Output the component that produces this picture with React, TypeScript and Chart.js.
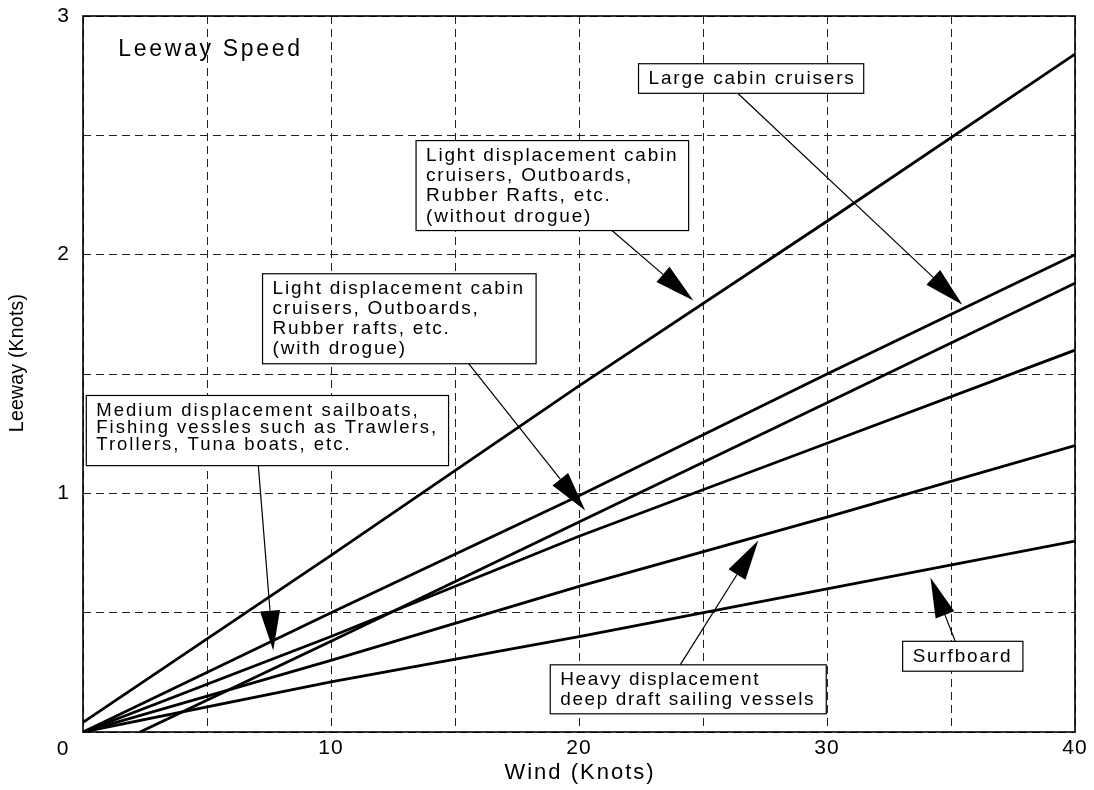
import React, { useEffect, useRef } from 'react';
import { Chart, registerables } from 'chart.js';

Chart.register(...registerables);

// ---- Data ----
const windPoints = [0, 10, 20, 30, 40];
const drogueWindPoints = [2.3, 10, 20, 30, 40];

const lightNoDrogue = [0.04, 0.74, 1.45, 2.14, 2.84];
const largeCabin = [0, 0.5, 0.99, 1.5, 2.0];
const lightWithDrogue = [0, 0.38, 0.88, 1.38, 1.88];
const mediumSail = [0, 0.4, 0.82, 1.21, 1.6];
const heavySail = [0, 0.3, 0.61, 0.9, 1.2];
const surfboard = [0, 0.21, 0.4, 0.6, 0.8];

const xTickLabels = [10, 20, 30, 40];
const yTickLabels = [1, 2, 3];

const chartTitle = 'Leeway Speed';
const xTitle = 'Wind (Knots)';
const yTitle = 'Leeway (Knots)';

const textLarge = ['Large cabin cruisers'];
const textNoDrogue = [
  'Light displacement cabin',
  'cruisers, Outboards,',
  'Rubber Rafts, etc.',
  '(without drogue)',
];
const textWithDrogue = [
  'Light displacement cabin',
  'cruisers, Outboards,',
  'Rubber rafts, etc.',
  '(with drogue)',
];
const textMedium = [
  'Medium displacement sailboats,',
  'Fishing vessles such as Trawlers,',
  'Trollers, Tuna boats, etc.',
];
const textHeavy = ['Heavy displacement', 'deep draft sailing vessels'];
const textSurf = ['Surfboard'];

// ---- Annotation layout (data units for anchors, px for styling) ----
type Note = {
  lines: string[];
  box: [number, number, number, number]; // left wind, top knots, right wind, bottom knots
  tail: [number, number];
  tip: [number, number];
  size: number;
  ls: number;
  gap: number;
};

const notes: Note[] = [
  { lines: textLarge, box: [22.4, 2.8, 31.48, 2.676], tail: [26.42, 2.674], tip: [35.46, 1.79], size: 19, ls: 1.8, gap: 20 },
  { lines: textNoDrogue, box: [13.43, 2.478, 24.42, 2.101], tail: [21.33, 2.101], tip: [24.61, 1.808], size: 19, ls: 1.8, gap: 20.3 },
  { lines: textWithDrogue, box: [7.24, 1.92, 18.27, 1.543], tail: [15.55, 1.543], tip: [20.25, 0.928], size: 19, ls: 1.8, gap: 20 },
  { lines: textMedium, box: [0.133, 1.41, 14.74, 1.116], tail: [7.07, 1.116], tip: [7.67, 0.341], size: 18.5, ls: 2.0, gap: 17 },
  { lines: textHeavy, box: [18.84, 0.2815, 29.97, 0.0762], tail: [24.08, 0.2815], tip: [27.23, 0.802], size: 19, ls: 1.6, gap: 20 },
  { lines: textSurf, box: [33.05, 0.38, 37.9, 0.2547], tail: [35.17, 0.38], tip: [34.17, 0.647], size: 19, ls: 1.8, gap: 20 },
];

const FONT = '"Liberation Sans", Arial, Helvetica, sans-serif';

function drawText(
  ctx: CanvasRenderingContext2D,
  text: string,
  x: number,
  y: number,
  size: number,
  ls: number,
  align: CanvasTextAlign = 'left'
) {
  ctx.save();
  ctx.font = `${size}px ${FONT}`;
  (ctx as any).letterSpacing = `${ls}px`;
  ctx.textAlign = align;
  ctx.textBaseline = 'middle';
  ctx.fillStyle = '#000';
  ctx.fillText(text, x, y);
  ctx.restore();
}

function drawArrow(ctx: CanvasRenderingContext2D, x1: number, y1: number, x2: number, y2: number) {
  const headLen = 40;
  const headHalf = 10;
  const ang = Math.atan2(y2 - y1, x2 - x1);
  const bx = x2 - headLen * Math.cos(ang);
  const by = y2 - headLen * Math.sin(ang);
  ctx.save();
  ctx.strokeStyle = '#000';
  ctx.fillStyle = '#000';
  ctx.lineWidth = 1.2;
  ctx.beginPath();
  ctx.moveTo(x1, y1);
  ctx.lineTo(bx, by);
  ctx.stroke();
  ctx.beginPath();
  ctx.moveTo(x2, y2);
  ctx.lineTo(bx + headHalf * Math.sin(ang), by - headHalf * Math.cos(ang));
  ctx.lineTo(bx - headHalf * Math.sin(ang), by + headHalf * Math.cos(ang));
  ctx.closePath();
  ctx.fill();
  ctx.restore();
}

const decorPlugin = {
  id: 'decor',
  beforeDraw(chart: any) {
    const ctx = chart.ctx as CanvasRenderingContext2D;
    ctx.save();
    ctx.fillStyle = '#fff';
    ctx.fillRect(0, 0, chart.width, chart.height);
    ctx.restore();
    (ctx as any).letterSpacing = '1px';
  },
  afterDraw(chart: any) {
    const ctx = chart.ctx as CanvasRenderingContext2D;
    (ctx as any).letterSpacing = '0px';
    const xs = chart.scales.x;
    const ys = chart.scales.y;
    const area = chart.chartArea;

    // frame
    ctx.save();
    ctx.strokeStyle = '#000';
    ctx.lineWidth = 1.6;
    ctx.strokeRect(area.left, area.top, area.right - area.left, area.bottom - area.top);
    ctx.restore();

    // shared origin label
    drawText(ctx, '0', xs.getPixelForValue(0) - 20, area.bottom + 17, 21, 1, 'center');

    // title inside plot
    drawText(ctx, chartTitle, xs.getPixelForValue(1.42), ys.getPixelForValue(2.859), 23, 2.7, 'left');

    // axis titles
    drawText(ctx, xTitle, (area.left + area.right) / 2 + 1, area.bottom + 41, 22, 2, 'center');
    ctx.save();
    ctx.translate(18, (area.top + area.bottom) / 2 - 11);
    ctx.rotate(-Math.PI / 2);
    drawText(ctx, yTitle, 0, 0, 19.5, 0.2, 'center');
    ctx.restore();

    // annotations
    for (const n of notes) {
      const l = xs.getPixelForValue(n.box[0]);
      const t = ys.getPixelForValue(n.box[1]);
      const r = xs.getPixelForValue(n.box[2]);
      const b = ys.getPixelForValue(n.box[3]);
      drawArrow(
        ctx,
        xs.getPixelForValue(n.tail[0]),
        ys.getPixelForValue(n.tail[1]),
        xs.getPixelForValue(n.tip[0]),
        ys.getPixelForValue(n.tip[1])
      );
      ctx.save();
      ctx.fillStyle = '#fff';
      ctx.fillRect(l, t, r - l, b - t);
      ctx.strokeStyle = '#000';
      ctx.lineWidth = 1.2;
      ctx.strokeRect(l, t, r - l, b - t);
      ctx.restore();
      n.lines.forEach((line, i) => {
        drawText(ctx, line, l + 10, t + 15 + i * n.gap, n.size, n.ls, 'left');
      });
    }
  },
};

function series(label: string, xsArr: number[], ysArr: number[]) {
  return {
    label,
    data: xsArr.map((x, i) => ({ x, y: ysArr[i] })),
    borderColor: '#000',
    backgroundColor: '#000',
    borderWidth: 2.8,
    pointRadius: 0,
    tension: 0,
    fill: false,
  };
}

export default function App() {
  const ref = useRef<HTMLCanvasElement | null>(null);

  useEffect(() => {
    if (!ref.current) return;
    const chart = new Chart(ref.current, {
      type: 'line',
      data: {
        datasets: [
          series('Light displacement (without drogue)', windPoints, lightNoDrogue),
          series('Large cabin cruisers', windPoints, largeCabin),
          series('Light displacement (with drogue)', drogueWindPoints, lightWithDrogue),
          series('Medium displacement sailboats', windPoints, mediumSail),
          series('Heavy displacement sailing vessels', windPoints, heavySail),
          series('Surfboard', windPoints, surfboard),
        ] as any,
      },
      options: {
        responsive: false,
        devicePixelRatio: 1,
        animation: false,
        layout: { padding: { top: 16, right: 19, bottom: 0, left: 0 } },
        plugins: {
          legend: { display: false },
          tooltip: { enabled: false },
          title: { display: false },
        },
        scales: {
          x: {
            type: 'linear',
            min: 0,
            max: 40,
            afterFit(scale: any) {
              scale.height = 58;
              scale.paddingLeft = 0;
              scale.paddingRight = 0;
            },
            ticks: {
              stepSize: 5,
              autoSkip: false,
              maxRotation: 0,
              padding: 4,
              color: '#000',
              font: { family: FONT, size: 21 },
              callback: (v: any) => (xTickLabels.includes(Number(v)) ? String(v) : ''),
            },
            grid: { color: '#222', lineWidth: 1, drawTicks: false, tickLength: 0 },
            border: { display: false, dash: [8, 5] },
          },
          y: {
            type: 'linear',
            min: 0,
            max: 3,
            afterFit(scale: any) {
              scale.width = 83;
              scale.paddingTop = 0;
              scale.paddingBottom = 0;
            },
            ticks: {
              stepSize: 0.5,
              autoSkip: false,
              padding: 13,
              color: '#000',
              font: { family: FONT, size: 21 },
              callback: (v: any) => (yTickLabels.includes(Number(v)) ? String(v) : ''),
            },
            grid: { color: '#222', lineWidth: 1, drawTicks: false, tickLength: 0 },
            border: { display: false, dash: [8, 5] },
          },
        },
      } as any,
      plugins: [decorPlugin],
    });
    return () => chart.destroy();
  }, []);

  return (
    <div style={{ position: 'absolute', left: 0, top: 0, width: 1094, height: 790, background: '#fff' }}>
      <canvas ref={ref} width={1094} height={790} style={{ display: 'block' }} />
    </div>
  );
}
